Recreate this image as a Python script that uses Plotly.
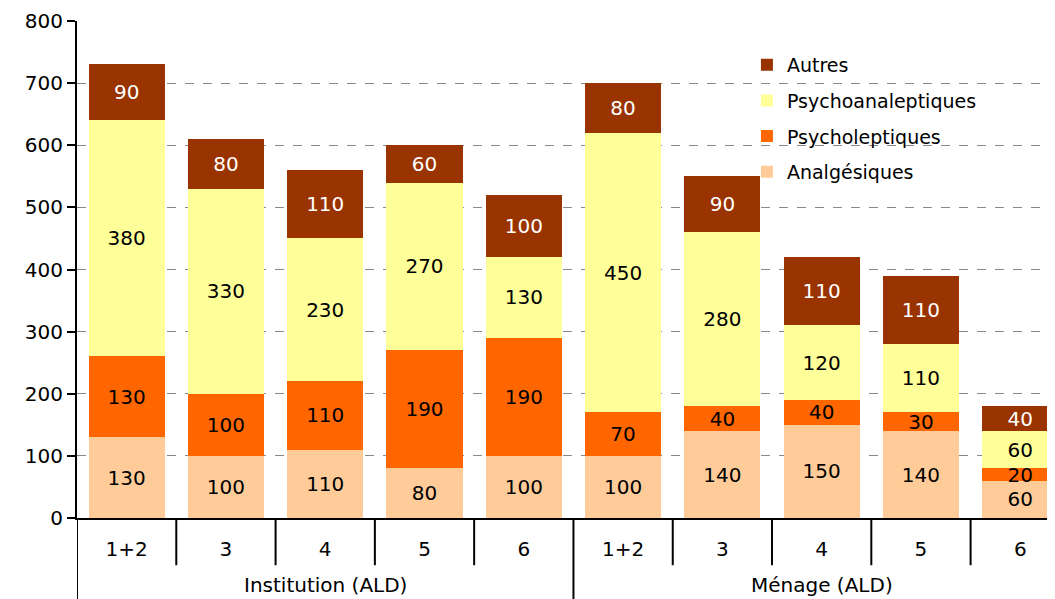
import plotly.graph_objects as go

# --- data -------------------------------------------------------------------
groups = ["Institution (ALD)"] * 5 + ["Ménage (ALD)"] * 5
classes = ["1+2", "3", "4", "5", "6", "1+2", "3", "4", "5", "6"]

analgesiques = [130, 100, 110, 80, 100, 100, 140, 150, 140, 60]
psycholeptiques = [130, 100, 110, 190, 190, 70, 40, 40, 30, 20]
psychoanaleptiques = [380, 330, 230, 270, 130, 450, 280, 120, 110, 60]
autres = [90, 80, 110, 60, 100, 80, 90, 110, 110, 40]

series = [
    ("Analgésiques", analgesiques, "#FFCC99", "black"),
    ("Psycholeptiques", psycholeptiques, "#FF6600", "black"),
    ("Psychoanaleptiques", psychoanaleptiques, "#FFFF99", "black"),
    ("Autres", autres, "#993300", "white"),
]

FONT = "DejaVu Sans, Verdana, sans-serif"
pos = list(range(len(classes)))

fig = go.Figure()

for k, (name, vals, colour, txt) in enumerate(series):
    fig.add_trace(
        go.Bar(
            x=pos,
            y=vals,
            name=name,
            legendgroup=name,
            legendrank=len(series) - k,  # top of the stack first in the legend
            marker=dict(color=colour, line=dict(width=0)),
            text=vals,
            textposition="inside",
            insidetextanchor="middle",
            textangle=0,
            constraintext="none",
            textfont=dict(color=txt, size=20, family=FONT),
        )
    )

# --- two-level category axis: ticks, group dividers, group labels ----------
for i in range(len(classes) + 1):
    new_group = i == 0 or i == len(classes) or groups[i] != groups[i - 1]
    fig.add_shape(
        type="line",
        xref="x",
        yref="paper",
        x0=i - 0.5,
        x1=i - 0.5,
        y0=0,
        y1=-0.17 if new_group else -0.095,
        line=dict(color="black", width=2),
    )

for g in dict.fromkeys(groups):
    idx = [i for i, v in enumerate(groups) if v == g]
    fig.add_annotation(
        x=sum(idx) / len(idx),
        y=-0.135,
        xref="x",
        yref="paper",
        text=g,
        showarrow=False,
        yanchor="middle",
        font=dict(size=20, family=FONT, color="black"),
    )

# --- layout -----------------------------------------------------------------
# the page body has an 8px margin, so the figure is shrunk to fit the window
fig.update_layout(
    barmode="stack",
    bargap=0.234,
    width=1047,
    height=591,
    margin=dict(l=69, r=0, t=13, b=81),
    plot_bgcolor="white",
    paper_bgcolor="white",
    font=dict(family=FONT, size=20, color="black"),
    showlegend=True,
    legend=dict(
        traceorder="grouped",
        tracegroupgap=8,
        x=0.685,
        y=0.95,
        xanchor="left",
        yanchor="top",
        bgcolor="rgba(0,0,0,0)",
        font=dict(size=19, family=FONT),
        itemwidth=30,
    ),
    xaxis=dict(
        range=[-0.5, 9.35],
        automargin=False,
        tickvals=pos,
        ticktext=classes,
        ticks="",
        ticklabelstandoff=12,
        showline=True,
        linecolor="black",
        linewidth=2,
        showgrid=False,
        zeroline=False,
        tickfont=dict(size=20, family=FONT),
    ),
    yaxis=dict(
        range=[0, 800],
        dtick=100,
        automargin=False,
        ticks="outside",
        ticklen=8,
        tickwidth=2,
        tickcolor="black",
        showline=True,
        linecolor="black",
        linewidth=2,
        showgrid=True,
        gridcolor="#888888",
        griddash="dash",
        gridwidth=1,
        zeroline=False,
        tickfont=dict(size=20, family=FONT),
    ),
)

fig.write_html("out.html")
